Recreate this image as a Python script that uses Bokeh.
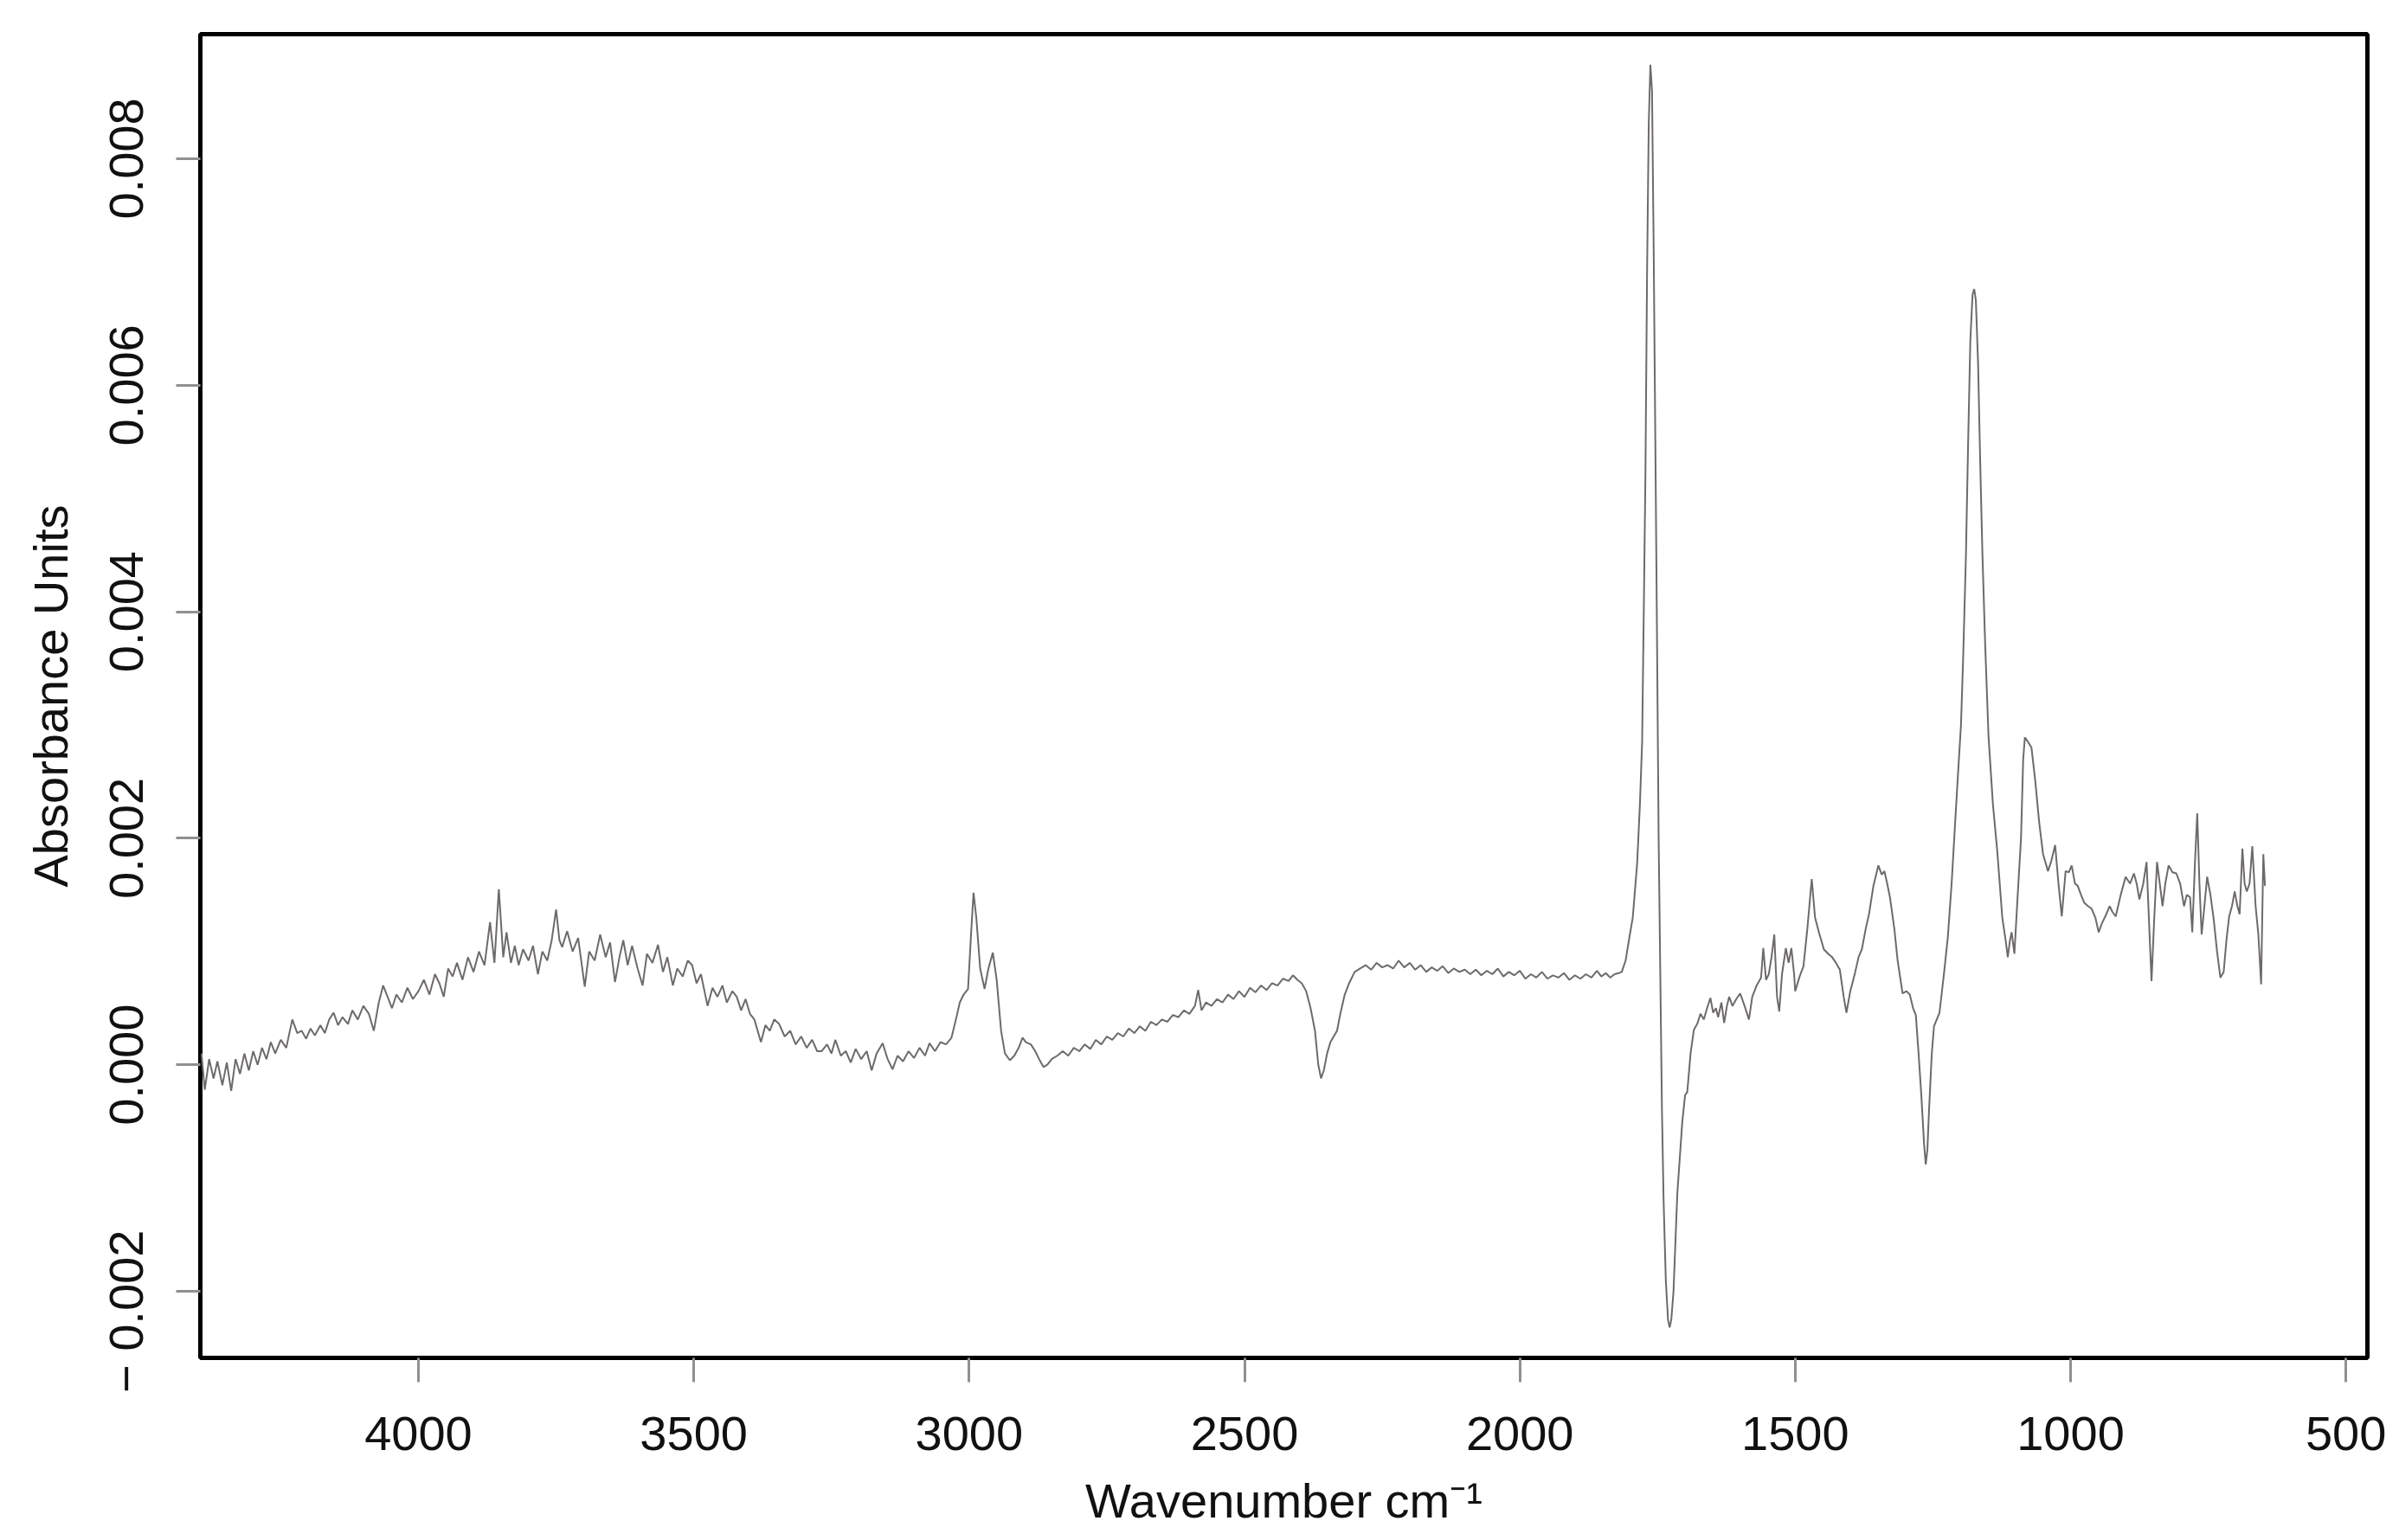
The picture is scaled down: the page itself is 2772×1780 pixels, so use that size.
from bokeh.plotting import figure
from bokeh.models import Range1d, FixedTicker, CustomJSTickFormatter
from bokeh.embed import file_html
from bokeh.resources import INLINE

# (wavenumber cm-1, absorbance)
region_high = [
    (4394, 0.00010), (4388, -0.00022), (4380, 0.00005), (4372, -0.00012), (4365, 0.00003),
    (4356, -0.00018), (4348, 0.00002), (4340, -0.00023), (4332, 0.00005), (4324, -0.00008),
    (4316, 0.00010), (4308, -0.00005), (4300, 0.00012), (4292, 0.00000), (4284, 0.00015),
    (4276, 0.00005), (4268, 0.00020), (4260, 0.00010), (4250, 0.00022), (4240, 0.00015),
    (4229, 0.00040), (4220, 0.00028), (4212, 0.00030), (4204, 0.00023), (4196, 0.00032),
    (4188, 0.00026), (4178, 0.00035), (4170, 0.00028), (4162, 0.00040), (4154, 0.00046),
    (4146, 0.00035), (4138, 0.00042), (4128, 0.00036), (4120, 0.00048), (4110, 0.00040),
    (4100, 0.00052), (4090, 0.00045), (4081, 0.00030), (4072, 0.00055), (4064, 0.00070),
    (4056, 0.00060), (4048, 0.00050), (4040, 0.00062), (4030, 0.00055), (4020, 0.00068),
    (4010, 0.00058), (4000, 0.00065), (3990, 0.00075), (3980, 0.00062), (3970, 0.00080),
    (3962, 0.00072), (3954, 0.00060), (3946, 0.00085), (3938, 0.00078), (3930, 0.00090),
    (3920, 0.00075), (3910, 0.00095), (3900, 0.00082), (3890, 0.00100), (3880, 0.00088),
    (3870, 0.00126), (3862, 0.00090), (3854, 0.00155), (3846, 0.00095), (3840, 0.00117),
    (3832, 0.00090), (3825, 0.00105), (3818, 0.00088), (3810, 0.00102), (3800, 0.00092),
    (3792, 0.00105), (3783, 0.00080), (3775, 0.00100), (3766, 0.00092), (3758, 0.00110),
    (3750, 0.00137), (3744, 0.00110), (3739, 0.00104), (3730, 0.00118), (3720, 0.00100),
    (3710, 0.00112), (3698, 0.00069), (3690, 0.00100), (3680, 0.00092), (3670, 0.00115),
    (3660, 0.00095), (3652, 0.00108), (3643, 0.00073), (3635, 0.00095), (3628, 0.00110),
    (3620, 0.00088), (3612, 0.00105), (3602, 0.00085), (3593, 0.00070), (3585, 0.00098),
    (3575, 0.00090), (3565, 0.00106), (3556, 0.00082), (3548, 0.00095), (3538, 0.00070),
    (3530, 0.00085), (3520, 0.00078), (3511, 0.00092), (3503, 0.00088), (3495, 0.00072),
    (3487, 0.00080), (3475, 0.00052), (3466, 0.00068), (3457, 0.00060), (3448, 0.00070),
    (3440, 0.00055), (3430, 0.00065), (3422, 0.00060), (3414, 0.00048), (3406, 0.00058),
    (3398, 0.00045), (3390, 0.00040), (3378, 0.00020), (3370, 0.00035), (3362, 0.00030),
    (3354, 0.00040), (3345, 0.00036), (3335, 0.00025), (3325, 0.00030), (3315, 0.00018),
    (3305, 0.00025), (3295, 0.00015), (3285, 0.00022), (3276, 0.00012), (3268, 0.00012),
    (3258, 0.00018), (3250, 0.00010), (3243, 0.00022), (3233, 0.00008), (3224, 0.00012),
    (3215, 0.00002), (3206, 0.00014), (3196, 0.00005), (3186, 0.00012), (3177, -0.00005),
    (3168, 0.00010), (3157, 0.00019), (3148, 0.00005), (3139, -0.00004), (3130, 0.00008),
    (3120, 0.00003), (3110, 0.00012), (3100, 0.00006), (3090, 0.00015), (3080, 0.00008),
    (3072, 0.00019), (3062, 0.00012), (3052, 0.00020), (3042, 0.00018), (3032, 0.00024),
    (3024, 0.00040), (3017, 0.00055), (3010, 0.00062), (3002, 0.00067), (2996, 0.00120),
    (2992, 0.00152), (2987, 0.00130), (2980, 0.00085), (2972, 0.00067), (2965, 0.00085),
    (2957, 0.00099), (2950, 0.00075), (2942, 0.00030), (2935, 0.00010), (2926, 0.00004),
    (2918, 0.00008), (2910, 0.00015), (2903, 0.00024), (2897, 0.00020), (2888, 0.00018),
    (2880, 0.00012), (2873, 0.00005), (2865, -0.00002), (2858, 0.00000),
]

region_mid = [
    (2850, 0.00005), (2840, 0.00008), (2830, 0.00012), (2820, 0.00008), (2810, 0.00015),
    (2800, 0.00012), (2790, 0.00018), (2780, 0.00014), (2770, 0.00022), (2760, 0.00018),
    (2750, 0.00025), (2740, 0.00022), (2730, 0.00028), (2720, 0.00025), (2710, 0.00032),
    (2700, 0.00028), (2690, 0.00034), (2680, 0.00030), (2670, 0.00038), (2660, 0.00035),
    (2650, 0.00040), (2640, 0.00038), (2630, 0.00044), (2620, 0.00042), (2610, 0.00048),
    (2600, 0.00045), (2590, 0.00052), (2584, 0.00066), (2578, 0.00048), (2570, 0.00055),
    (2560, 0.00052), (2550, 0.00058), (2540, 0.00055), (2530, 0.00062), (2520, 0.00058),
    (2510, 0.00065), (2500, 0.00060), (2490, 0.00068), (2480, 0.00064), (2470, 0.00070),
    (2460, 0.00066), (2450, 0.00072), (2440, 0.00070), (2430, 0.00076), (2420, 0.00074),
    (2412, 0.00079), (2404, 0.00075), (2396, 0.00072), (2388, 0.00065), (2380, 0.00050),
    (2372, 0.00030), (2366, 0.00000), (2361, -0.00012), (2356, -0.00005), (2350, 0.00010),
    (2344, 0.00020), (2338, 0.00025), (2332, 0.00030), (2326, 0.00045), (2318, 0.00062),
    (2310, 0.00072), (2300, 0.00082), (2290, 0.00085), (2280, 0.00088), (2270, 0.00084),
    (2260, 0.00090), (2250, 0.00086), (2240, 0.00088), (2230, 0.00085), (2220, 0.00092),
    (2210, 0.00086), (2200, 0.00090), (2190, 0.00084), (2180, 0.00088), (2170, 0.00082),
    (2160, 0.00086), (2150, 0.00083), (2140, 0.00087), (2130, 0.00081), (2120, 0.00085),
    (2110, 0.00082), (2100, 0.00084), (2090, 0.00080), (2080, 0.00084), (2070, 0.00079),
    (2060, 0.00083), (2050, 0.00080), (2040, 0.00085), (2030, 0.00078), (2020, 0.00082),
    (2010, 0.00079), (2000, 0.00083), (1990, 0.00076), (1980, 0.00080), (1970, 0.00077),
    (1960, 0.00082), (1950, 0.00076), (1940, 0.00079), (1930, 0.00077), (1920, 0.00081),
    (1910, 0.00075), (1900, 0.00079), (1890, 0.00076), (1880, 0.00080), (1870, 0.00077),
    (1860, 0.00083), (1852, 0.00078), (1844, 0.00081), (1836, 0.00077), (1828, 0.00080),
]

region_carbonyl = [
    (1820, 0.00081), (1815, 0.00082), (1808, 0.00092), (1802, 0.00110), (1795, 0.00130),
    (1787, 0.00178), (1782, 0.00230), (1778, 0.00285), (1775, 0.00400), (1772, 0.00520),
    (1769, 0.00700), (1766, 0.00830), (1763, 0.00883), (1760, 0.00860), (1757, 0.00720),
    (1754, 0.00550), (1751, 0.00380), (1748, 0.00200), (1745, 0.00080), (1742, -0.00040),
    (1739, -0.00120), (1735, -0.00190), (1731, -0.00225), (1728, -0.00232), (1725, -0.00225),
    (1721, -0.00200), (1717, -0.00150), (1714, -0.00113), (1710, -0.00085), (1705, -0.00050),
    (1700, -0.00027), (1696, -0.00024), (1690, 0.00010), (1684, 0.00031), (1678, 0.00036),
    (1672, 0.00045), (1666, 0.00040), (1660, 0.00050), (1654, 0.00059), (1649, 0.00046),
    (1644, 0.00050), (1640, 0.00042), (1634, 0.00055), (1629, 0.00037), (1624, 0.00052),
    (1620, 0.00060), (1614, 0.00052), (1607, 0.00058), (1600, 0.00063), (1592, 0.00052),
    (1584, 0.00040), (1578, 0.00060), (1570, 0.00070), (1562, 0.00077), (1558, 0.00103),
    (1553, 0.00075), (1548, 0.00080), (1543, 0.00095), (1538, 0.00115), (1533, 0.00060),
    (1529, 0.00047), (1524, 0.00080), (1517, 0.00103), (1512, 0.00090), (1507, 0.00103),
    (1502, 0.00080),
]

region_finger = [
    (1500, 0.00065), (1492, 0.00078), (1485, 0.00087), (1478, 0.00120), (1470, 0.00164),
    (1464, 0.00130), (1457, 0.00117), (1448, 0.00102), (1440, 0.00098), (1433, 0.00095),
    (1426, 0.00090), (1419, 0.00084), (1412, 0.00060), (1407, 0.00046), (1400, 0.00065),
    (1391, 0.00082), (1385, 0.00095), (1379, 0.00102), (1372, 0.00120), (1366, 0.00133),
    (1358, 0.00158), (1349, 0.00176), (1343, 0.00168), (1338, 0.00171), (1333, 0.00160),
    (1328, 0.00148), (1320, 0.00120), (1314, 0.00092), (1305, 0.00063), (1298, 0.00065),
    (1292, 0.00062), (1286, 0.00050), (1281, 0.00044), (1276, 0.00010), (1271, -0.00027),
    (1266, -0.00070), (1263, -0.00088), (1260, -0.00075), (1257, -0.00040), (1252, 0.00010),
    (1248, 0.00034), (1243, 0.00040), (1238, 0.00046), (1230, 0.00080), (1223, 0.00112),
    (1216, 0.00160), (1209, 0.00219), (1204, 0.00260), (1199, 0.00300), (1195, 0.00360),
    (1190, 0.00450), (1186, 0.00550), (1182, 0.00640), (1178, 0.00680), (1175, 0.00685),
    (1172, 0.00675), (1168, 0.00620), (1164, 0.00530), (1160, 0.00450), (1155, 0.00370),
    (1149, 0.00290), (1141, 0.00230), (1133, 0.00188), (1124, 0.00130), (1118, 0.00110),
    (1114, 0.00095), (1110, 0.00110), (1107, 0.00117), (1102, 0.00098), (1096, 0.00150),
    (1090, 0.00200), (1086, 0.00270), (1083, 0.00289), (1077, 0.00285), (1071, 0.00280),
    (1064, 0.00250), (1057, 0.00214), (1050, 0.00186), (1041, 0.00171), (1035, 0.00180),
    (1028, 0.00194), (1022, 0.00160), (1016, 0.00131), (1009, 0.00171), (1003, 0.00170),
    (998, 0.00176), (992, 0.00160), (987, 0.00158), (981, 0.00150), (975, 0.00143),
    (968, 0.00140), (962, 0.00138), (955, 0.00130), (949, 0.00117), (943, 0.00125),
    (937, 0.00131), (929, 0.00140), (924, 0.00135), (918, 0.00131), (909, 0.00150),
    (900, 0.00166), (892, 0.00160), (885, 0.00169), (880, 0.00160), (875, 0.00146),
    (868, 0.00160), (862, 0.00179), (857, 0.00120), (853, 0.00074), (848, 0.00130),
    (843, 0.00179), (838, 0.00160), (833, 0.00140), (828, 0.00160), (822, 0.00176),
    (815, 0.00170), (808, 0.00169), (801, 0.00160), (794, 0.00140), (789, 0.00150),
    (783, 0.00148), (779, 0.00117), (774, 0.00180), (770, 0.00222), (766, 0.00160),
    (762, 0.00115), (757, 0.00140), (752, 0.00166), (746, 0.00150), (740, 0.00128),
    (734, 0.00100), (728, 0.00077), (722, 0.00082), (717, 0.00110), (712, 0.00131),
    (707, 0.00140), (702, 0.00153), (697, 0.00140), (693, 0.00133), (688, 0.00191),
    (684, 0.00160), (680, 0.00153), (675, 0.00160), (670, 0.00193), (664, 0.00140),
    (659, 0.00115), (654, 0.00071), (650, 0.00186), (647, 0.00158),
]

x_ticks = [4000, 3500, 3000, 2500, 2000, 1500, 1000, 500]
y_ticks = [-0.002, 0.000, 0.002, 0.004, 0.006, 0.008]

spectrum = region_high + region_mid + region_carbonyl + region_finger
wavenumber = [w for w, a in spectrum]
absorbance = [a for w, a in spectrum]

FONT = "Liberation Sans"

p = figure(
    frame_width=2504, frame_height=1530,
    x_range=Range1d(4396, 461), y_range=Range1d(-0.002588, 0.0091),
    output_backend="svg", toolbar_location=None,
    min_border_left=231, min_border_right=37, min_border_top=39, min_border_bottom=211,
    background_fill_color="white", border_fill_color="white",
)
p.line(wavenumber, absorbance, line_color="#6e6a6b", line_width=2)

p.xgrid.visible = False
p.ygrid.visible = False
p.outline_line_color = "black"
p.outline_line_width = 5

p.xaxis.ticker = FixedTicker(ticks=x_ticks)
p.yaxis.ticker = FixedTicker(ticks=y_ticks)
# the reference prints the minus sign of the negative label detached from the digits
p.yaxis.formatter = CustomJSTickFormatter(code="""
    if (Math.abs(tick) < 1e-12) { return "0.000"; }
    if (tick < 0) { return "\\u2212\\u00a0" + Math.abs(tick).toFixed(3) + "\\u00a0\\u00a0\\u00a0"; }
    return tick.toFixed(3);
""")
p.yaxis.major_label_orientation = "vertical"

for ax in (p.xaxis[0], p.yaxis[0]):
    ax.axis_line_color = None
    ax.major_tick_in = 0
    ax.major_tick_out = 28
    ax.major_tick_line_color = "#909090"
    ax.major_tick_line_width = 3
    ax.minor_tick_line_color = None
    ax.major_label_text_font = FONT
    ax.major_label_text_font_size = "56px"
    ax.major_label_text_color = "#111111"
    ax.axis_label_text_font = FONT
    ax.axis_label_text_font_size = "56px"
    ax.axis_label_text_font_style = "normal"
    ax.axis_label_text_color = "#111111"

p.xaxis.axis_label = "Wavenumber cm\u207b\u00b9"
p.yaxis.axis_label = "Absorbance Units"
p.xaxis.major_label_standoff = 40
p.yaxis.major_label_standoff = 26
p.xaxis.axis_label_standoff = 24
p.yaxis.axis_label_standoff = 22

open("out.html", "w").write(file_html(p, INLINE))
